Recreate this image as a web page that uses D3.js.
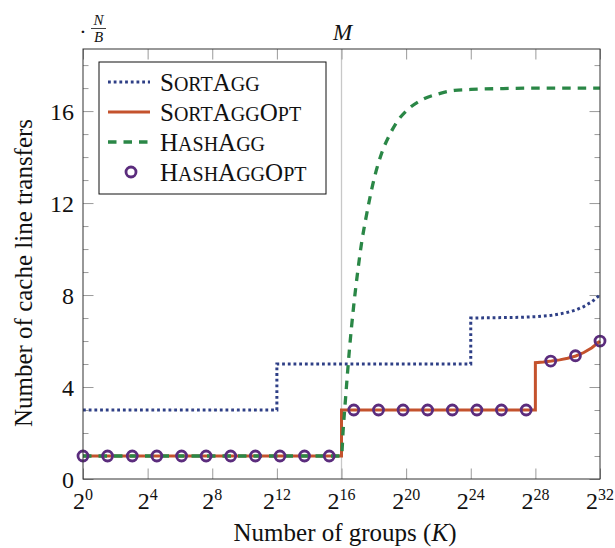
<!DOCTYPE html>
<html>
<head>
<meta charset="utf-8">
<script src="https://cdn.jsdelivr.net/npm/d3@7"></script>
<style>
  body { margin: 0; background: #fff; }
  text { font-family: "Liberation Serif", "Times New Roman", serif; fill: #111; }
</style>
</head>
<body>
<div id="chart"></div>
<script>
// exponents of K (log2 groups)
const xTickExp = [0, 4, 8, 12, 16, 20, 24, 28, 32];
const yTicks = [0, 4, 8, 12, 16];
const yMinor = [1, 2, 3, 5, 6, 7, 9, 10, 11, 13, 14, 15, 17, 18];
const memExp = 16;

const seriesNames = ['SortAgg', 'SortAggOpt', 'HashAgg', 'HashAggOpt'];

const sortAggX = [0, 12, 12, 24, 24, 25, 26, 27, 28, 28.5, 29, 29.5, 30, 30.5, 31, 31.5, 32];
const sortAggY = [3, 3, 5, 5, 7, 7.01, 7.02, 7.03, 7.06, 7.09, 7.12, 7.18, 7.25, 7.35, 7.5, 7.71, 8];

const sortOptX = [0, 16, 16, 28, 28, 28.5, 29, 29.5, 30, 30.5, 31, 31.5, 32];
const sortOptY = [1, 1, 3, 3, 5.06, 5.09, 5.13, 5.18, 5.25, 5.35, 5.5, 5.71, 6];

const hashX = [0, 16, 16.1, 16.25, 16.5, 16.75, 17, 17.25, 17.5, 17.75, 18, 18.5, 19, 19.5, 20, 21, 22, 23, 24, 26, 28, 32];
const hashY = [1, 1, 2.1, 3.5, 5.7, 7.5, 9, 10.3, 11.3, 12.2, 13, 14.2, 15, 15.6, 16, 16.5, 16.75, 16.9, 16.94, 16.98, 17, 17];

const hashOptX = [0, 1.52, 3.05, 4.57, 6.1, 7.62, 9.14, 10.67, 12.19, 13.71, 15.24,
                  16.76, 18.29, 19.81, 21.33, 22.86, 24.38, 25.9, 27.43, 28.95, 30.48, 32];
const hashOptY = [1, 1, 1, 1, 1, 1, 1, 1, 1, 1, 1,
                  3, 3, 3, 3, 3, 3, 3, 3, 5.13, 5.36, 6];

const colors = { blue: '#2e3f86', orange: '#c4522d', green: '#2a8746', purple: '#5b2c7d' };

const width = 615, height = 548;
const margin = { top: 49, right: 15, bottom: 69, left: 83 };

const svg = d3.select('#chart').append('svg')
    .attr('width', width)
    .attr('height', height);

const x = d3.scaleLinear().domain([0, 32]).range([margin.left, width - margin.right]);
const y = d3.scaleLinear().domain([0, 18.7]).range([height - margin.bottom, margin.top]);

const x0 = x.range()[0], x1 = x.range()[1], yb = y.range()[0], yt = y.range()[1];

// M marker line
svg.append('line')
    .attr('x1', x(memExp)).attr('x2', x(memExp))
    .attr('y1', yt).attr('y2', yb)
    .attr('stroke', '#c8c8c8').attr('stroke-width', 1.3);

// ticks (inward, on all four sides)
const tickColor = '#9a9a9a';
function tickAxis(axis, transform) {
    const g = svg.append('g').attr('transform', transform).call(axis);
    g.select('.domain').remove();
    g.selectAll('line').attr('stroke', tickColor).attr('stroke-width', 1);
    return g;
}
tickAxis(d3.axisBottom(x).tickValues(xTickExp).tickSize(-10.5).tickFormat(''), `translate(0,${yb})`);
tickAxis(d3.axisTop(x).tickValues(xTickExp).tickSize(-10.5).tickFormat(''), `translate(0,${yt})`);
tickAxis(d3.axisLeft(y).tickValues(yMinor).tickSize(-5.5).tickFormat(''), `translate(${x0},0)`);
tickAxis(d3.axisRight(y).tickValues(yMinor).tickSize(-5.5).tickFormat(''), `translate(${x1},0)`);
tickAxis(d3.axisRight(y).tickValues(yTicks).tickSize(-10.5).tickFormat(''), `translate(${x1},0)`);
const yAx = tickAxis(d3.axisLeft(y).tickValues(yTicks).tickSize(-10.5).tickPadding(9), `translate(${x0},0)`);
yAx.selectAll('text')
    .attr('font-family', '"Liberation Serif", serif')
    .attr('font-size', 24)
    .attr('fill', '#111')
    .attr('dy', '0.34em');

// x tick labels 2^k
const xl = svg.append('g').selectAll('text')
    .data(xTickExp)
    .enter().append('text')
    .attr('x', d => x(d))
    .attr('y', 509)
    .attr('text-anchor', 'middle')
    .attr('font-size', 24);
xl.append('tspan').text('2');
xl.append('tspan').attr('font-size', 16).attr('dy', -9).text(d => d);

// series lines
const line = d3.line().x(d => x(d[0])).y(d => y(d[1]));
const zip = (a, b) => a.map((v, i) => [v, b[i]]);

svg.append('path')
    .datum(zip(sortAggX, sortAggY))
    .attr('d', line)
    .attr('fill', 'none').attr('stroke', colors.blue)
    .attr('stroke-width', 3).attr('stroke-dasharray', '2.8,2.9');

svg.append('path')
    .datum(zip(sortOptX, sortOptY))
    .attr('d', line)
    .attr('fill', 'none').attr('stroke', colors.orange)
    .attr('stroke-width', 3);

svg.append('path')
    .datum(zip(hashX, hashY))
    .attr('d', line.curve(d3.curveMonotoneX))
    .attr('fill', 'none').attr('stroke', colors.green)
    .attr('stroke-width', 3.3).attr('stroke-dasharray', '8.5,7');

svg.append('g').selectAll('circle')
    .data(zip(hashOptX, hashOptY))
    .enter().append('circle')
    .attr('cx', d => x(d[0]))
    .attr('cy', d => y(d[1]))
    .attr('r', 5)
    .attr('fill', 'none')
    .attr('stroke', colors.purple)
    .attr('stroke-width', 2.8);

// frame
svg.append('rect')
    .attr('x', x0).attr('y', yt)
    .attr('width', x1 - x0).attr('height', yb - yt)
    .attr('fill', 'none').attr('stroke', '#333').attr('stroke-width', 1);

// legend
const lg = svg.append('g');
lg.append('rect')
    .attr('x', 99).attr('y', 62).attr('width', 227).attr('height', 132)
    .attr('fill', '#fff').attr('stroke', '#111').attr('stroke-width', 1);

const legendStyle = [
    { stroke: colors.blue, dash: '2.8,2.9', w: 3 },
    { stroke: colors.orange, dash: null, w: 3 },
    { stroke: colors.green, dash: '8.5,7', w: 3.3 },
    { marker: true }
];
seriesNames.forEach((name, i) => {
    const cy = 82 + i * 30;
    const st = legendStyle[i];
    if (st.marker) {
        lg.append('circle').attr('cx', 131).attr('cy', cy).attr('r', 5)
            .attr('fill', 'none').attr('stroke', colors.purple).attr('stroke-width', 2.8);
    } else {
        lg.append('line').attr('x1', 108).attr('x2', 150).attr('y1', cy).attr('y2', cy)
            .attr('stroke', st.stroke).attr('stroke-width', st.w)
            .attr('stroke-dasharray', st.dash);
    }
    // small caps by hand
    const t = lg.append('text').attr('x', 160).attr('y', cy + 8.5).attr('font-size', 25);
    name.split('').forEach(ch => {
        const big = ch === ch.toUpperCase();
        t.append('tspan').attr('font-size', big ? 25 : 20).text(ch.toUpperCase());
    });
});

// axis titles
svg.append('text')
    .attr('x', 345).attr('y', 541)
    .attr('text-anchor', 'middle')
    .attr('font-size', 25)
    .html('Number of groups (<tspan font-style="italic">K</tspan>)');

svg.append('text')
    .attr('transform', 'translate(32,273) rotate(-90)')
    .attr('text-anchor', 'middle')
    .attr('font-size', 25)
    .text('Number of cache line transfers');

// annotations above plot
svg.append('text')
    .attr('x', x(memExp) + 1).attr('y', 40)
    .attr('text-anchor', 'middle')
    .attr('font-size', 23).attr('font-style', 'italic')
    .text('M');

svg.append('text')
    .attr('x', 83).attr('y', 39)
    .attr('text-anchor', 'middle')
    .attr('font-size', 22)
    .text('·');
svg.append('text')
    .attr('x', 98.5).attr('y', 25)
    .attr('text-anchor', 'middle')
    .attr('font-size', 15).attr('font-style', 'italic')
    .text('N');
svg.append('line')
    .attr('x1', 91).attr('x2', 106).attr('y1', 28.5).attr('y2', 28.5)
    .attr('stroke', '#111').attr('stroke-width', 0.8);
svg.append('text')
    .attr('x', 98.5).attr('y', 41.5)
    .attr('text-anchor', 'middle')
    .attr('font-size', 15).attr('font-style', 'italic')
    .text('B');
</script>
</body>
</html>
